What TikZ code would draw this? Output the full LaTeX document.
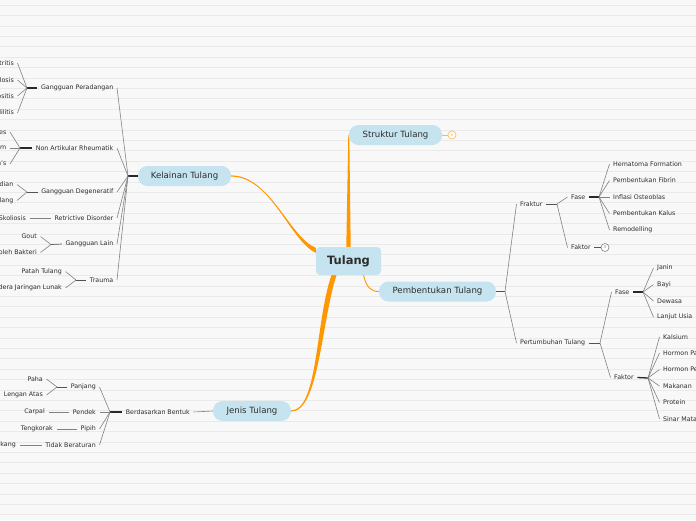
\documentclass[tikz,border=0pt]{standalone}
\usepackage{fontspec}
\setmainfont{DejaVu Sans}
\definecolor{biruTopik}{RGB}{198,228,239}
\definecolor{oranyeCabang}{RGB}{255,152,0}
\definecolor{abuGaris}{RGB}{130,130,130}
\definecolor{hitamGaris}{RGB}{40,40,40}
\definecolor{teksGelap}{RGB}{45,45,45}
\definecolor{kertas}{RGB}{248,248,248}
\definecolor{garisKertas}{RGB}{234,234,234}
\pgfdeclarelayer{latar}
\pgfdeclarelayer{jalur}
\pgfsetlayers{latar,jalur,main}

\begin{document}
\begin{tikzpicture}[x=1pt, y=-1pt,
    pusat/.style={fill=biruTopik, rounded corners=4pt, minimum width=65pt, minimum height=28pt, inner sep=0pt, font=\fontsize{11.5}{13}\selectfont\bfseries, text=teksGelap},
    topik/.style={fill=biruTopik, rounded corners=9.5pt, minimum height=20pt, inner sep=0pt, font=\fontsize{8.6}{10}\selectfont, text=teksGelap},
    daun/.style={inner xsep=3.5pt, inner ysep=1pt, font=\fontsize{6.3}{7.5}\selectfont, text=teksGelap},
    ranting/.style={draw=abuGaris, line width=0.6pt},
    batang/.style={draw=hitamGaris, line width=1.3pt},
    tangkai/.style={draw=hitamGaris!80, line width=0.7pt},
    cabang/.style={fill=oranyeCabang},
    hitung/.style={circle, draw, fill=white, line width=0.6pt, minimum size=8pt, inner sep=0pt, font=\fontsize{4}{4}\selectfont}
]
    \useasboundingbox (0,0) rectangle (696,520);
    % Kertas bergaris
    \begin{pgfonlayer}{latar}
        \fill[kertas] (0,0) rectangle (696,520);
        \foreach \i in {0,...,49}
            \draw[garisKertas, line width=0.6pt] (0,{5+\i*10.4}) -- (696,{5+\i*10.4});
    \end{pgfonlayer}

    % Topik utama
    \node[pusat] (tulang) at (348.5,261) {Tulang};
    \node[topik, minimum width=93pt] (struktur) at (395.5,135) {Struktur Tulang};
    \node[topik, minimum width=93pt] (kelainan) at (184.5,176) {Kelainan Tulang};
    \node[topik, minimum width=117pt] (pembentukan) at (437.5,291.5) {Pembentukan Tulang};
    \node[topik, minimum width=78pt] (jenis) at (252,411) {Jenis Tulang};

    % Cabang oranye
    \begin{pgfonlayer}{jalur}
        \fill[cabang] ([xshift=-2.2pt]tulang.north) -- ([xshift=-0.5pt]struktur.west) -- ([xshift=0.5pt]struktur.west) -- ([xshift=2.2pt]tulang.north) -- cycle;
        \fill[cabang] ([yshift=-1pt]tulang.north west) .. controls +(-26,-10) and +(39,0) .. ([yshift=0.6pt]kelainan.east)
            -- ([yshift=-0.6pt]kelainan.east) .. controls +(40,0) and +(-26,-12) .. ([yshift=-6pt]tulang.north west) -- cycle;
        \fill[cabang] ([xshift=-17pt]tulang.south) .. controls +(-16,45) and +(27,0) .. ([yshift=0.6pt]jenis.east)
            -- ([yshift=-0.6pt]jenis.east) .. controls +(28,0) and +(-15,45) .. ([xshift=-12pt]tulang.south) -- cycle;
        \draw[oranyeCabang, line width=0.9pt] ([xshift=15pt]tulang.south) .. controls +(3,12) and +(-8,0) .. (pembentukan.west);
    \end{pgfonlayer}
    \node[hitung, draw=oranyeCabang!70, text=oranyeCabang!70] (strukturN) at (452,135) {6};
    \draw[oranyeCabang!70, line width=0.8pt] (struktur.east) -- (strukturN);

    % Kelainan Tulang
    \coordinate (kj) at (128,176);
    \draw[batang] (kj) -- (kelainan.west);
    \node[daun, anchor=east] (peradangan) at (117,88) {Gangguan Peradangan};
    \node[daun, anchor=east] (nonartikular) at (117,148) {Non Artikular Rheumatik};
    \node[daun, anchor=east] (degeneratif) at (117,192) {Gangguan Degeneratif};
    \node[daun, anchor=east] (retrictive) at (117,218) {Retrictive Disorder};
    \node[daun, anchor=east] (lain) at (117,244) {Gangguan Lain};
    \node[daun, anchor=east] (trauma) at (117,280) {Trauma};
    \foreach \n in {peradangan,nonartikular,degeneratif,retrictive,lain,trauma}
        \draw[ranting] (kj) -- (\n.east);

    \coordinate (pj) at (27,88);
    \draw[batang] (pj) -- (peradangan.west);
    \node[daun, anchor=east] (artritis) at (17.5,63) {Artritis};
    \node[daun, anchor=east] (tuberkulosis) at (17.5,80) {Tuberkulosis};
    \node[daun, anchor=east] (miositis) at (17.5,96) {Miositis};
    \node[daun, anchor=east] (spondilitis) at (17.5,113) {Spondilitis};
    \foreach \n in {artritis,tuberkulosis,miositis,spondilitis}
        \draw[ranting] (pj) -- (\n.east);

    \coordinate (nj) at (20,148);
    \draw[batang] (nj) -- (nonartikular.west);
    \node[daun, anchor=east] (nodes) at (10,132) {Heberden Nodes};
    \node[daun, anchor=east] (syndrom) at (10,148) {Carpal Tunnel Syndrom};
    \node[daun, anchor=east] (dupuytren) at (10,164) {Dupuytren's};
    \foreach \n in {nodes,syndrom,dupuytren}
        \draw[ranting] (nj) -- (\n.east);

    \coordinate (dj) at (27,192);
    \draw[tangkai] (dj) -- (degeneratif.west);
    \node[daun, anchor=east] (kemudian) at (17,184.5) {Artrosis Kemudian};
    \node[daun, anchor=east] (pengeroposan) at (17,200.5) {Pengeroposan Tulang};
    \foreach \n in {kemudian,pengeroposan}
        \draw[ranting] (dj) -- (\n.east);

    \node[daun, anchor=east] (skoliosis) at (29.5,218) {Skoliosis};
    \draw[ranting] (retrictive.west) -- (skoliosis.east);

    \coordinate (lj) at (51,244.5);
    \draw[tangkai] (lj) -- (lain.west);
    \node[daun, anchor=east] (gout) at (40.5,236.5) {Gout};
    \node[daun, anchor=east] (bakteri) at (40.5,252.5) {Infeksi oleh Bakteri};
    \foreach \n in {gout,bakteri}
        \draw[ranting] (lj) -- (\n.east);

    \coordinate (tj) at (76,280);
    \draw[tangkai] (tj) -- (trauma.west);
    \node[daun, anchor=east] (patah) at (65.5,271.5) {Patah Tulang};
    \node[daun, anchor=east] (cedera) at (65.5,288) {Cedera Jaringan Lunak};
    \foreach \n in {patah,cedera}
        \draw[ranting] (tj) -- (\n.east);

    % Jenis Tulang
    \node[daun, anchor=east] (bentuk) at (193.5,412) {Berdasarkan Bentuk};
    \draw[ranting] (jenis.west) -- (bentuk.east);
    \coordinate (bj) at (110,412);
    \draw[batang] (bj) -- (bentuk.west);
    \node[daun, anchor=east] (panjang) at (99.5,387) {Panjang};
    \node[daun, anchor=east] (pendek) at (99.5,412) {Pendek};
    \node[daun, anchor=east] (pipih) at (99.5,429) {Pipih};
    \node[daun, anchor=east] (beraturan) at (99.5,445) {Tidak Beraturan};
    \foreach \n in {panjang,pendek,pipih,beraturan}
        \draw[ranting] (bj) -- (\n.east);

    \coordinate (pjg) at (57,387);
    \draw[tangkai] (pjg) -- (panjang.west);
    \node[daun, anchor=east] (paha) at (46.5,379) {Paha};
    \node[daun, anchor=east] (lengan) at (46.5,395) {Lengan Atas};
    \foreach \n in {paha,lengan}
        \draw[ranting] (pjg) -- (\n.east);
    \node[daun, anchor=east] (carpal) at (48.5,412) {Carpal};
    \draw[ranting] (pendek.west) -- (carpal.east);
    \node[daun, anchor=east] (tengkorak) at (56.5,429) {Tengkorak};
    \draw[ranting] (pipih.west) -- (tengkorak.east);
    \node[daun, anchor=east] (belakang) at (19.5,445) {Tulang Belakang};
    \draw[ranting] (beraturan.west) -- (belakang.east);

    % Pembentukan Tulang
    \coordinate (mj) at (505,291.5);
    \draw[tangkai] (pembentukan.east) -- (mj);
    \node[daun, anchor=west] (fraktur) at (516.5,204) {Fraktur};
    \node[daun, anchor=west] (pertumbuhan) at (516.5,343) {Pertumbuhan Tulang};
    \foreach \n in {fraktur,pertumbuhan}
        \draw[ranting] (mj) -- (\n.west);

    \coordinate (fj) at (557,204);
    \draw[tangkai] (fraktur.east) -- (fj);
    \node[daun, anchor=west] (fase) at (567.5,197) {Fase};
    \node[daun, anchor=west] (faktor) at (567.5,247.5) {Faktor};
    \foreach \n in {fase,faktor}
        \draw[ranting] (fj) -- (\n.west);
    \node[hitung, draw=abuGaris, text=abuGaris] (faktorN) at (605,247.5) {3};
    \draw[tangkai] (faktor.east) -- (faktorN);

    \coordinate (sj) at (599,197);
    \draw[batang] (fase.east) -- (sj);
    \node[daun, anchor=west] (hematoma) at (609.5,164) {Hematoma Formation};
    \node[daun, anchor=west] (fibrin) at (609.5,180.5) {Pembentukan Fibrin};
    \node[daun, anchor=west] (inflasi) at (609.5,197) {Inflasi Osteoblas};
    \node[daun, anchor=west] (kalus) at (609.5,213.5) {Pembentukan Kalus};
    \node[daun, anchor=west] (remodelling) at (609.5,230) {Remodelling};
    \foreach \n in {hematoma,fibrin,inflasi,kalus,remodelling}
        \draw[ranting] (sj) -- (\n.west);

    \coordinate (uj) at (600,343);
    \draw[tangkai] (pertumbuhan.east) -- (uj);
    \node[daun, anchor=west] (faseB) at (611.5,292) {Fase};
    \node[daun, anchor=west] (faktorB) at (610.5,377.5) {Faktor};
    \foreach \n in {faseB,faktorB}
        \draw[ranting] (uj) -- (\n.west);

    \coordinate (aj) at (643,292);
    \draw[batang] (faseB.east) -- (aj);
    \node[daun, anchor=west] (janin) at (653.5,268) {Janin};
    \node[daun, anchor=west] (bayi) at (653.5,284.5) {Bayi};
    \node[daun, anchor=west] (dewasa) at (653.5,301) {Dewasa};
    \node[daun, anchor=west] (lanjut) at (653.5,317) {Lanjut Usia};
    \foreach \n in {janin,bayi,dewasa,lanjut}
        \draw[ranting] (aj) -- (\n.west);

    \coordinate (kfj) at (648,378);
    \draw[batang] (faktorB.east) -- (kfj);
    \node[daun, anchor=west] (kalsium) at (659.5,337) {Kalsium};
    \node[daun, anchor=west] (paratiroid) at (659.5,353) {Hormon Paratiroid};
    \node[daun, anchor=west] (hpertumbuhan) at (659.5,369.5) {Hormon Pertumbuhan};
    \node[daun, anchor=west] (makanan) at (659.5,386) {Makanan};
    \node[daun, anchor=west] (protein) at (659.5,402.5) {Protein};
    \node[daun, anchor=west] (matahari) at (659.5,419) {Sinar Matahari};
    \foreach \n in {kalsium,paratiroid,hpertumbuhan,makanan,protein,matahari}
        \draw[ranting] (kfj) -- (\n.west);
\end{tikzpicture}
\end{document}
